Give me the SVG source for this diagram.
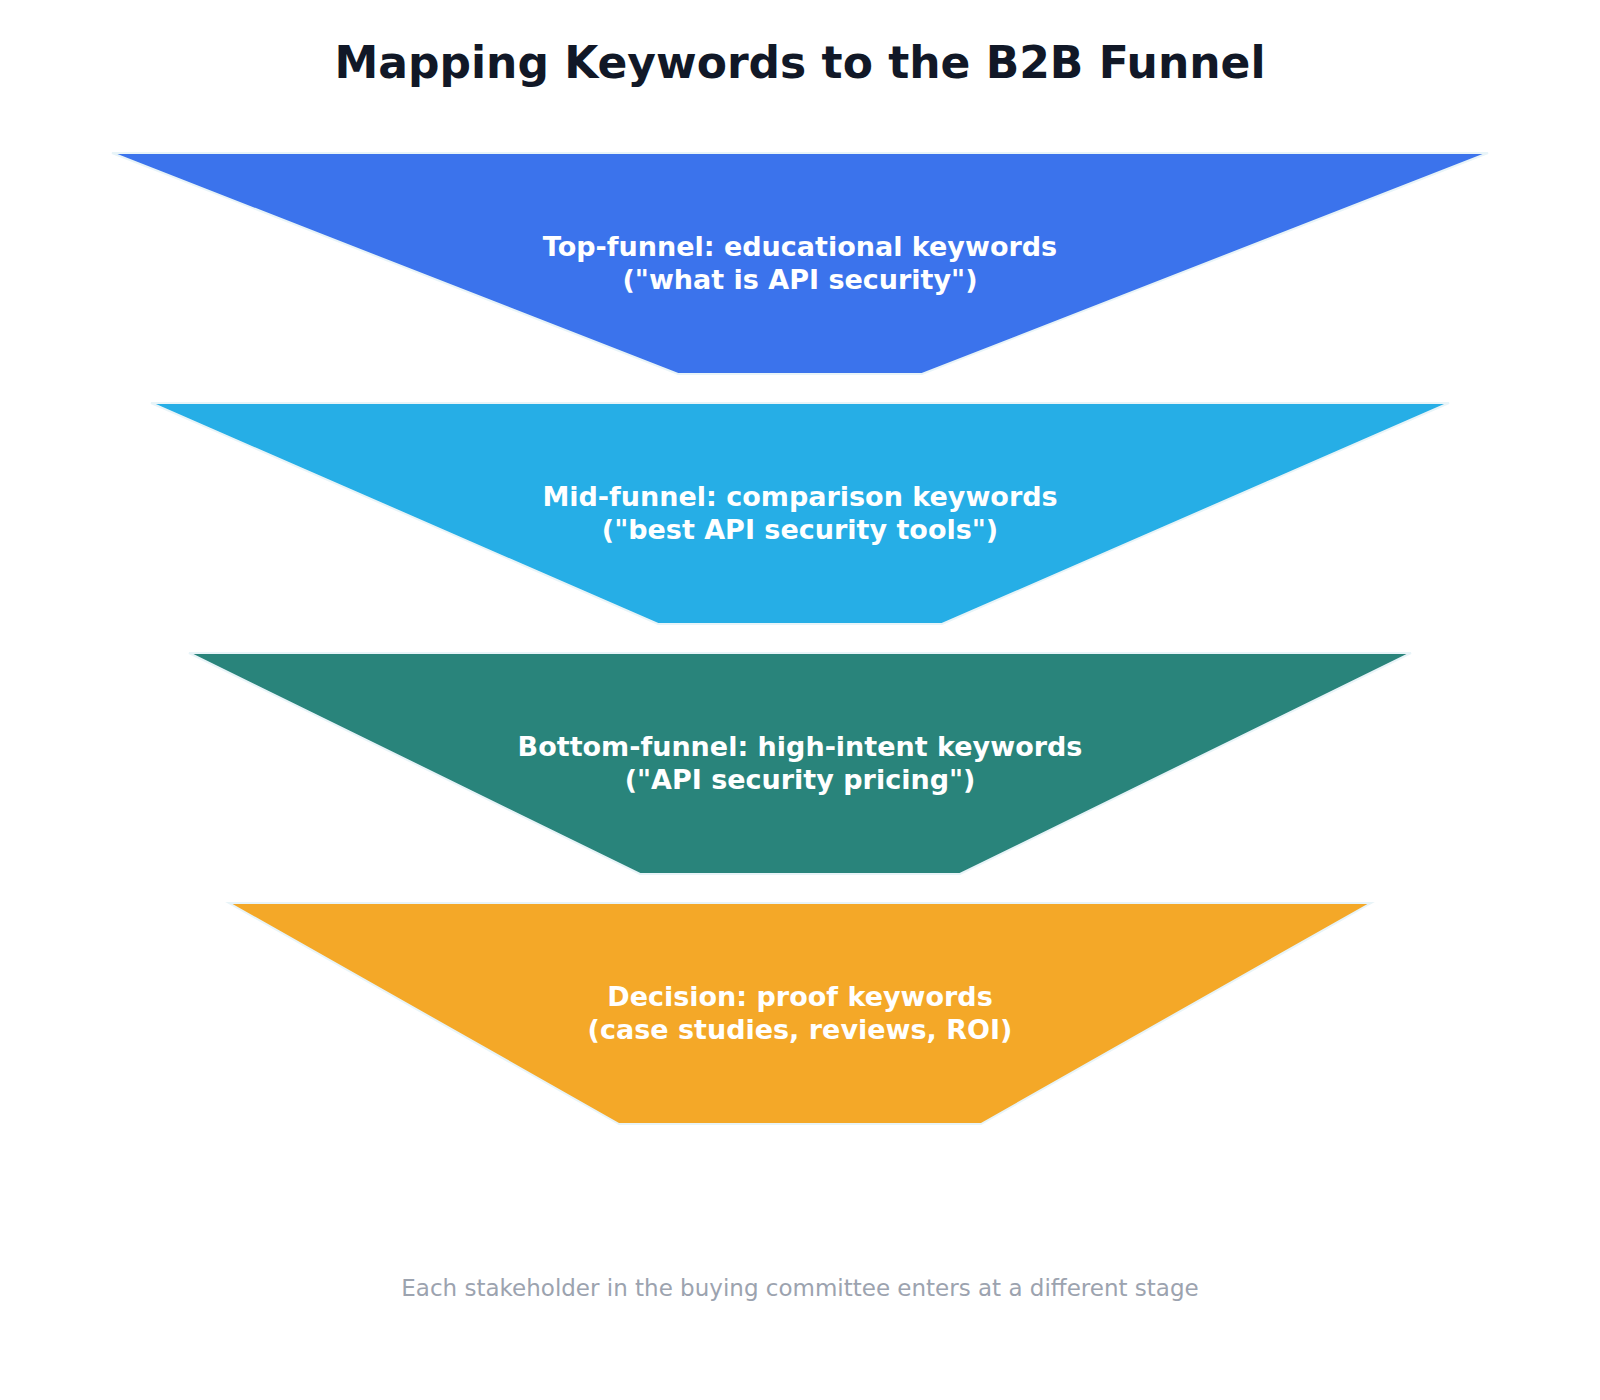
<svg xmlns="http://www.w3.org/2000/svg" width="1600" height="1400" viewBox="0 0 1600 1400">
<style>
.t{font-family:"DejaVu Sans",sans-serif;font-weight:bold;fill:#ffffff;font-size:27px;text-anchor:middle}
.s{stroke:#e8f4f8;stroke-width:2}
</style>
<rect width="1600" height="1400" fill="#ffffff"/>
<text x="800" y="78" font-family="DejaVu Sans,sans-serif" font-weight="bold" font-size="44" fill="#111827" text-anchor="middle">Mapping Keywords to the B2B Funnel</text>
<g id="stage1"><polygon class="s" points="112,153 1488,153 922,374 678,374" fill="#3b73ec"/>
<text class="t" x="800" y="256">Top-funnel: educational keywords</text><text class="t" x="800" y="289">("what is API security")</text></g>
<g id="stage2"><polygon class="s" points="151,403 1449,403 942,624 658,624" fill="#26aee6"/>
<text class="t" x="800" y="506">Mid-funnel: comparison keywords</text><text class="t" x="800" y="539">("best API security tools")</text></g>
<g id="stage3"><polygon class="s" points="189,653 1411,653 960,874 640,874" fill="#29847b"/>
<text class="t" x="800" y="756">Bottom-funnel: high-intent keywords</text><text class="t" x="800" y="789">("API security pricing")</text></g>
<g id="stage4"><polygon class="s" points="229,903 1371,903 981,1124 619,1124" fill="#f4a828"/>
<text class="t" x="800" y="1006">Decision: proof keywords</text><text class="t" x="800" y="1039">(case studies, reviews, ROI)</text></g>
<g id="connectors"/>
<text x="800" y="1296" font-family="DejaVu Sans,sans-serif" font-size="23" fill="#9ca3af" text-anchor="middle">Each stakeholder in the buying committee enters at a different stage</text>
</svg>
